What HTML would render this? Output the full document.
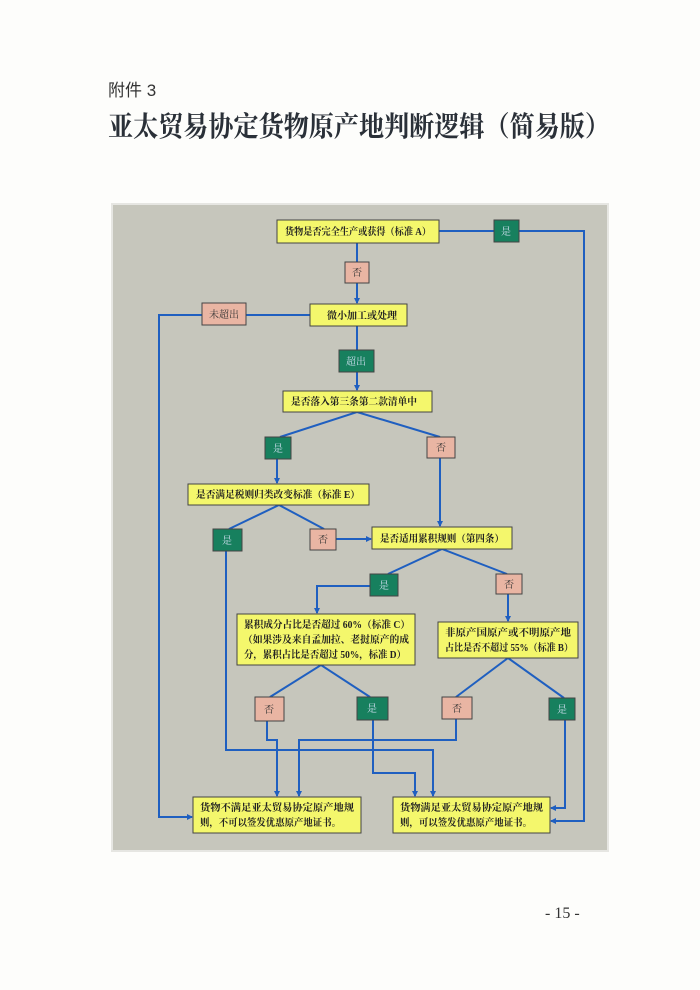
<!DOCTYPE html>
<html><head><meta charset="utf-8"><style>
html,body{margin:0;padding:0;background:#fff;}
svg{display:block}
text{font-family:"Liberation Serif","Noto Serif CJK SC","Noto Sans CJK SC",serif;}
</style></head><body>
<svg width="700" height="990" viewBox="0 0 700 990" xmlns="http://www.w3.org/2000/svg">
<defs>
<marker id="ar" markerWidth="6" markerHeight="6" refX="5" refY="3" orient="auto" markerUnits="userSpaceOnUse">
<path d="M0,0 L6,3 L0,6 z" fill="#1f5fc0"/></marker>
</defs>
<rect width="700" height="990" fill="#fdfdfb"/>
<text x="108" y="96" font-size="17" fill="#333" style='font-family:"Liberation Sans","Noto Sans CJK SC",sans-serif'>附件 3</text>
<text x="108" y="136" font-size="28" font-weight="bold" fill="#2a3038" textLength="502" lengthAdjust="spacingAndGlyphs" style='font-family:"Noto Serif CJK SC",serif'>亚太贸易协定货物原产地判断逻辑（简易版）</text>
<text x="545" y="918" font-size="16" fill="#333">- 15 -</text>

<rect x="112" y="204" width="496" height="647" fill="#c6c6bc" stroke="#e6e6e2" stroke-width="2"/>

<g stroke="#1f5fc0" stroke-width="2" fill="none">
<line x1="439" y1="231" x2="494" y2="231"/>
<polyline points="519,231 584,231 584,821 551,821" marker-end="url(#ar)"/>
<line x1="357" y1="243" x2="357" y2="262"/>
<line x1="357" y1="283" x2="357" y2="303" marker-end="url(#ar)"/>
<line x1="310" y1="315" x2="246" y2="315"/>
<polyline points="202,315 159,315 159,817 192,817" marker-end="url(#ar)"/>
<line x1="357" y1="326" x2="357" y2="350"/>
<line x1="357" y1="372" x2="357" y2="390" marker-end="url(#ar)"/>
<polyline points="280,437 357,412 440,437"/>
<line x1="277" y1="459" x2="277" y2="483" marker-end="url(#ar)"/>
<line x1="440" y1="458" x2="440" y2="526" marker-end="url(#ar)"/>
<polyline points="229,529 279,505 324,529"/>
<line x1="336" y1="539" x2="371" y2="539" marker-end="url(#ar)"/>
<polyline points="388,574 442,549 507,574"/>
<polyline points="370,586 317,586 317,613" marker-end="url(#ar)"/>
<line x1="508" y1="594" x2="508" y2="621" marker-end="url(#ar)"/>
<polyline points="270,697 321,665 370,697"/>
<polyline points="456,697 508,658 564,698"/>
<polyline points="226,551 226,750 433,750 433,796" marker-end="url(#ar)"/>
<polyline points="267,721 267,740 277,740 277,796" marker-end="url(#ar)"/>
<polyline points="456,719 456,740 299,740 299,796" marker-end="url(#ar)"/>
<polyline points="373,720 373,773 415,773 415,796" marker-end="url(#ar)"/>
<polyline points="565,720 565,808 551,808" marker-end="url(#ar)"/>
</g>

<g stroke="#444" stroke-width="1">
<rect x="277" y="220" width="162" height="23" fill="#f4f76c"/>
<rect x="310" y="304" width="97" height="22" fill="#f4f76c"/>
<rect x="283" y="391" width="149" height="21" fill="#f4f76c"/>
<rect x="188" y="484" width="181" height="21" fill="#f4f76c"/>
<rect x="372" y="527" width="140" height="22" fill="#f4f76c"/>
<rect x="237" y="614" width="178" height="51" fill="#f4f76c"/>
<rect x="438" y="622" width="140" height="36" fill="#f4f76c"/>
<rect x="193" y="797" width="168" height="36" fill="#f4f76c"/>
<rect x="393" y="797" width="157" height="36" fill="#f4f76c"/>

<rect x="494" y="220" width="25" height="22" fill="#17805e"/>
<rect x="339" y="350" width="35" height="22" fill="#17805e"/>
<rect x="265" y="437" width="26" height="22" fill="#17805e"/>
<rect x="213" y="529" width="29" height="22" fill="#17805e"/>
<rect x="370" y="574" width="28" height="22" fill="#17805e"/>
<rect x="357" y="697" width="31" height="23" fill="#17805e"/>
<rect x="549" y="698" width="26" height="22" fill="#17805e"/>

<rect x="345" y="262" width="24" height="21" fill="#e9b5a3"/>
<rect x="202" y="303" width="44" height="22" fill="#e9b5a3"/>
<rect x="427" y="437" width="28" height="21" fill="#e9b5a3"/>
<rect x="310" y="529" width="26" height="21" fill="#e9b5a3"/>
<rect x="496" y="574" width="26" height="20" fill="#e9b5a3"/>
<rect x="255" y="697" width="29" height="24" fill="#e9b5a3"/>
<rect x="442" y="697" width="30" height="22" fill="#e9b5a3"/>
</g>

<g font-size="10" fill="#222" font-weight="bold" lengthAdjust="spacingAndGlyphs">
<text x="285" y="235" textLength="146" lengthAdjust="spacingAndGlyphs">货物是否完全生产或获得（标准 A）</text>
<text x="327" y="319" textLength="70" lengthAdjust="spacingAndGlyphs">微小加工或处理</text>
<text x="291" y="405" textLength="126" lengthAdjust="spacingAndGlyphs">是否落入第三条第二款清单中</text>
<text x="196" y="498" textLength="164" lengthAdjust="spacingAndGlyphs">是否满足税则归类改变标准（标准 E）</text>
<text x="380" y="542" textLength="124" lengthAdjust="spacingAndGlyphs">是否适用累积规则（第四条）</text>
<text x="244" y="628" textLength="166" lengthAdjust="spacingAndGlyphs">累积成分占比是否超过 60%（标准 C）</text>
<text x="243" y="643" textLength="166" lengthAdjust="spacingAndGlyphs">（如果涉及来自孟加拉、老挝原产的成</text>
<text x="244" y="658" textLength="162" lengthAdjust="spacingAndGlyphs">分，累积占比是否超过 50%，标准 D）</text>
<text x="445" y="636" textLength="126" lengthAdjust="spacingAndGlyphs">非原产国原产或不明原产地</text>
<text x="445" y="651" textLength="128" lengthAdjust="spacingAndGlyphs">占比是否不超过 55%（标准 B）</text>
<text x="200" y="811" textLength="154" lengthAdjust="spacingAndGlyphs">货物不满足亚太贸易协定原产地规</text>
<text x="200" y="826" textLength="141" lengthAdjust="spacingAndGlyphs">则，不可以签发优惠原产地证书。</text>
<text x="400" y="811" textLength="143" lengthAdjust="spacingAndGlyphs">货物满足亚太贸易协定原产地规</text>
<text x="400" y="826" textLength="132" lengthAdjust="spacingAndGlyphs">则，可以签发优惠原产地证书。</text>
</g>
<g font-size="10" text-anchor="middle">
<text x="506" y="235" fill="#cde">是</text>
<text x="356" y="365" fill="#cde">超出</text>
<text x="278" y="452" fill="#cde">是</text>
<text x="227" y="544" fill="#cde">是</text>
<text x="384" y="589" fill="#cde">是</text>
<text x="372" y="712" fill="#cde">是</text>
<text x="562" y="713" fill="#cde">是</text>
<text x="357" y="276" fill="#333">否</text>
<text x="224" y="318" fill="#333">未超出</text>
<text x="441" y="451" fill="#333">否</text>
<text x="323" y="543" fill="#333">否</text>
<text x="509" y="588" fill="#333">否</text>
<text x="269" y="713" fill="#333">否</text>
<text x="457" y="712" fill="#333">否</text>
</g>
</svg>
</body></html>
